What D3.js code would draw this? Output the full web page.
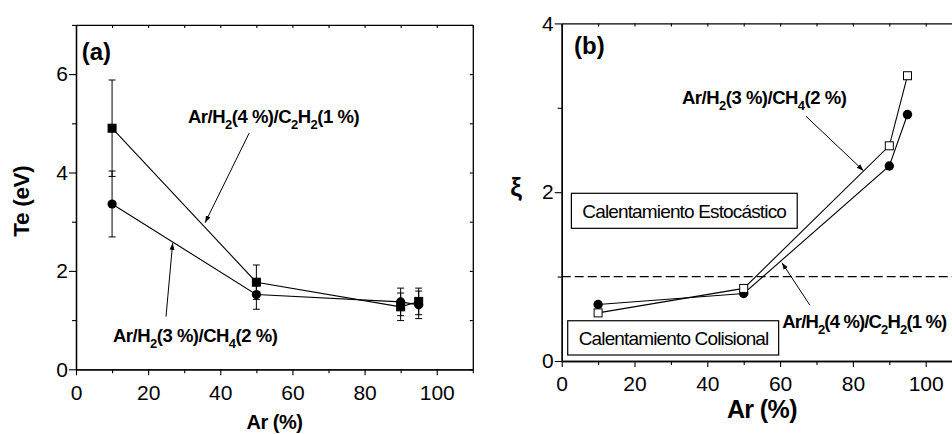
<!DOCTYPE html>
<html>
<head>
<meta charset="utf-8">
<script src="https://cdn.jsdelivr.net/npm/d3@7"></script>
<style>
  html, body { margin: 0; padding: 0; background: #fff; }
  svg { display: block; }
</style>
</head>
<body>
<svg id="chart" width="952" height="434"></svg>
<script>
// Argon fraction in the gas mixture (%)
const arPct = [10, 50, 90, 95];

// Panel (a): electron temperature (eV) with error bars
const teC2H2 = [4.90, 1.77, 1.27, 1.38];
const teC2H2Err = [0.98, 0.35, 0.28, 0.27];
const teCH4 = [3.36, 1.52, 1.37, 1.31];
const teCH4Err = [0.67, 0.30, 0.28, 0.28];

// Panel (b): heating parameter xi
const xiSquares = [0.57, 0.86, 2.55, 3.38];
const xiCircles = [0.67, 0.80, 2.31, 2.92];
const xiThreshold = 1.0;

// Tick values
const xMajorTicks = [0, 20, 40, 60, 80, 100];
const xMinorTicks = [10, 30, 50, 70, 90, 110];
const yTicksA = [0, 2, 4, 6];
const yMinorA = [1, 3, 5, 7];
const yTicksB = [0, 2, 4];
const yMinorB = [1, 3];

// Labels
const labelC2H2 = [["Ar/H", 0], ["2", 1], ["(4 %)/C", 0], ["2", 1], ["H", 0], ["2", 1], ["(1 %)", 0]];
const labelCH4 = [["Ar/H", 0], ["2", 1], ["(3 %)/CH", 0], ["4", 1], ["(2 %)", 0]];
const xTitle = "Ar (%)";
const yTitleA = "Te (eV)";
const yTitleB = "ξ";
const boxStochastic = "Calentamiento Estocástico";
const boxCollisional = "Calentamiento Colisional";

const FONT = "'Liberation Sans', Arial, Helvetica, sans-serif";
const TICK_FONT = "21px";
const svg = d3.select("#chart");

svg.append("defs").append("marker")
  .attr("id", "arrowhead")
  .attr("viewBox", "0 0 10 10")
  .attr("refX", 10).attr("refY", 5)
  .attr("markerWidth", 7).attr("markerHeight", 7)
  .attr("markerUnits", "userSpaceOnUse")
  .attr("orient", "auto")
  .append("path").attr("d", "M0,1.5 L10,5 L0,8.5 Z").attr("fill", "#000");

function drawFrame(g, x, y, yMajor, yMinor) {
  const [x0, x1] = x.range();
  const [y0, y1] = y.range(); // y0 bottom, y1 top

  // bottom axis, major with labels
  const bx = g.append("g").attr("transform", `translate(0,${y0})`)
    .call(d3.axisBottom(x).tickValues(xMajorTicks).tickSize(6).tickSizeOuter(0).tickFormat(d3.format("d")));
  bx.selectAll("text").attr("y", 15.5).attr("dy", "0.71em")
    .style("font-family", FONT).style("font-size", TICK_FONT).attr("fill", "#000");
  g.append("g").attr("transform", `translate(0,${y0})`)
    .call(d3.axisBottom(x).tickValues(xMinorTicks).tickSize(4).tickSizeOuter(0).tickFormat(""));

  // left axis
  const ly = g.append("g").attr("transform", `translate(${x0},0)`)
    .call(d3.axisLeft(y).tickValues(yMajor).tickSize(7).tickSizeOuter(0).tickFormat(d3.format("d")));
  ly.selectAll("text").attr("x", -8)
    .style("font-family", FONT).style("font-size", TICK_FONT).attr("fill", "#000");
  g.append("g").attr("transform", `translate(${x0},0)`)
    .call(d3.axisLeft(y).tickValues(yMinor).tickSize(4).tickSizeOuter(0).tickFormat(""));

  // top and right borders with small inward ticks
  g.append("g").attr("transform", `translate(0,${y1})`)
    .call(d3.axisTop(x).tickValues(xMajorTicks.concat(xMinorTicks)).tickSize(-3).tickSizeOuter(0).tickFormat(""));
  g.append("g").attr("transform", `translate(${x1},0)`)
    .call(d3.axisRight(y).tickValues(yMajor.concat(yMinor)).tickSize(-3).tickSizeOuter(0).tickFormat(""));

  g.selectAll(".domain").attr("stroke", "#000").attr("stroke-width", 1.3);
  g.selectAll(".tick line").attr("stroke", "#000").attr("stroke-width", 1.1);
}

function richLabel(g, parts, px, py, size, spacing) {
  const t = g.append("text")
    .attr("x", px).attr("y", py)
    .style("font-family", FONT).style("font-weight", "bold")
    .style("font-size", size + "px").style("letter-spacing", spacing + "px")
    .attr("fill", "#000");
  let sub = false;
  parts.forEach(([s, isSub]) => {
    const ts = t.append("tspan").text(s);
    if (isSub && !sub) { ts.attr("dy", 6).style("font-size", "13px"); sub = true; }
    else if (isSub) { ts.style("font-size", "13px"); }
    else if (sub) { ts.attr("dy", -6); sub = false; }
  });
  return t;
}

function arrow(g, x, y, from, to) {
  g.append("line")
    .attr("x1", x(from[0])).attr("y1", y(from[1]))
    .attr("x2", x(to[0])).attr("y2", y(to[1]))
    .attr("stroke", "#000").attr("stroke-width", 1)
    .attr("marker-end", "url(#arrowhead)");
}

function seriesLine(g, x, y, vals) {
  const line = d3.line().x((d, i) => x(arPct[i])).y(d => y(d));
  g.append("path").datum(vals).attr("d", line)
    .attr("fill", "none").attr("stroke", "#000").attr("stroke-width", 1.1);
}

function errorBars(g, x, y, vals, errs) {
  vals.forEach((v, i) => {
    const cx = x(arPct[i]);
    const hi = y(v + errs[i]), lo = y(v - errs[i]);
    g.append("line").attr("x1", cx).attr("x2", cx).attr("y1", hi).attr("y2", lo)
      .attr("stroke", "#000").attr("stroke-width", 1);
    [hi, lo].forEach(yy => g.append("line")
      .attr("x1", cx - 3.5).attr("x2", cx + 3.5).attr("y1", yy).attr("y2", yy)
      .attr("stroke", "#000").attr("stroke-width", 1));
  });
}

function squares(g, x, y, vals, fill, size) {
  g.selectAll(null).data(vals).enter().append("rect")
    .attr("x", (d, i) => x(arPct[i]) - size / 2)
    .attr("y", d => y(d) - size / 2)
    .attr("width", size).attr("height", size)
    .attr("fill", fill).attr("stroke", "#000").attr("stroke-width", 1);
}

function circles(g, x, y, vals, r) {
  g.selectAll(null).data(vals).enter().append("circle")
    .attr("cx", (d, i) => x(arPct[i])).attr("cy", d => y(d)).attr("r", r)
    .attr("fill", "#000");
}

// ---------- Panel (a) ----------
const xa = d3.scaleLinear().domain([0, 110]).range([76, 472.8]);
const ya = d3.scaleLinear().domain([0, 7]).range([369.3, 24.9]);
const ga = svg.append("g");
drawFrame(ga, xa, ya, yTicksA, yMinorA);

errorBars(ga, xa, ya, teC2H2, teC2H2Err);
errorBars(ga, xa, ya, teCH4, teCH4Err);
seriesLine(ga, xa, ya, teC2H2);
seriesLine(ga, xa, ya, teCH4);
squares(ga, xa, ya, teC2H2, "#000", 8);
circles(ga, xa, ya, teCH4, 4.6);

ga.append("text").attr("x", xa(1.58)).attr("y", ya(6.28)).text("(a)")
  .style("font-family", FONT).style("font-weight", "bold").style("font-size", "24px");
richLabel(ga, labelC2H2, xa(31.05), ya(5.0), 18.5, -0.5);
richLabel(ga, labelCH4, xa(10.26), ya(0.56), 18.5, -0.5);
arrow(ga, xa, ya, [48.0, 4.80], [35.8, 2.98]);
arrow(ga, xa, ya, [24.95, 1.07], [26.8, 2.57]);

ga.append("text").attr("x", (xa.range()[0] + xa.range()[1]) / 2).attr("y", 429)
  .attr("text-anchor", "middle").text(xTitle)
  .style("font-family", FONT).style("font-weight", "bold").style("font-size", "20px")
  .style("letter-spacing", "-0.5px");
ga.append("text")
  .attr("transform", `translate(29.4,${(ya.range()[0] + ya.range()[1]) / 2 + 4}) rotate(-90)`)
  .attr("text-anchor", "middle").text(yTitleA)
  .style("font-family", FONT).style("font-weight", "bold").style("font-size", "22.5px")
  .style("letter-spacing", "-0.3px");

// ---------- Panel (b) ----------
const xb = d3.scaleLinear().domain([0, 110]).range([561.7, 962.1]);
const yb = d3.scaleLinear().domain([0, 4]).range([361, 23.4]);
const gb = svg.append("g");
drawFrame(gb, xb, yb, yTicksB, yMinorB);

gb.append("line")
  .attr("x1", xb(0)).attr("x2", xb(110))
  .attr("y1", yb(xiThreshold)).attr("y2", yb(xiThreshold))
  .attr("stroke", "#000").attr("stroke-width", 1.3).attr("stroke-dasharray", "9,4");

seriesLine(gb, xb, yb, xiSquares);
seriesLine(gb, xb, yb, xiCircles);
circles(gb, xb, yb, xiCircles, 4.7);
squares(gb, xb, yb, xiSquares, "#fff", 8);

// regime boxes
function regimeBox(g, x, y, text, bx0, bx1, by0, by1, tx, ty) {
  g.append("rect")
    .attr("x", x(bx0)).attr("y", y(by0))
    .attr("width", x(bx1) - x(bx0)).attr("height", y(by1) - y(by0))
    .attr("fill", "#fff").attr("stroke", "#000").attr("stroke-width", 1.2);
  g.append("text").attr("x", x(tx)).attr("y", y(ty)).text(text)
    .style("font-family", FONT).style("font-size", "19px").style("letter-spacing", "-0.85px");
}
regimeBox(gb, xb, yb, boxStochastic, 2.66, 64.7, 1.987, 1.572, 5.66, 1.70);
regimeBox(gb, xb, yb, boxCollisional, 1.65, 59.6, 0.477, 0.071, 4.67, 0.19);

gb.append("text").attr("x", xb(3.4)).attr("y", yb(3.635)).text("(b)")
  .style("font-family", FONT).style("font-weight", "bold").style("font-size", "24px");
richLabel(gb, labelCH4, xb(33.05), yb(3.05), 18.5, -0.5);
richLabel(gb, labelC2H2, xb(60.6), yb(0.39), 18.5, -0.85);
arrow(gb, xb, yb, [67.1, 2.90], [82.9, 2.255]);
arrow(gb, xb, yb, [68.2, 0.66], [60.5, 1.165]);

gb.append("text").attr("x", xb(55)).attr("y", 418)
  .attr("text-anchor", "middle").text(xTitle)
  .style("font-family", FONT).style("font-weight", "bold").style("font-size", "25px")
  .style("letter-spacing", "-0.6px");
gb.append("text").attr("x", 516).attr("y", 196)
  .attr("text-anchor", "middle").text(yTitleB)
  .style("font-family", FONT).style("font-weight", "bold").style("font-size", "26px");
</script>
</body>
</html>
